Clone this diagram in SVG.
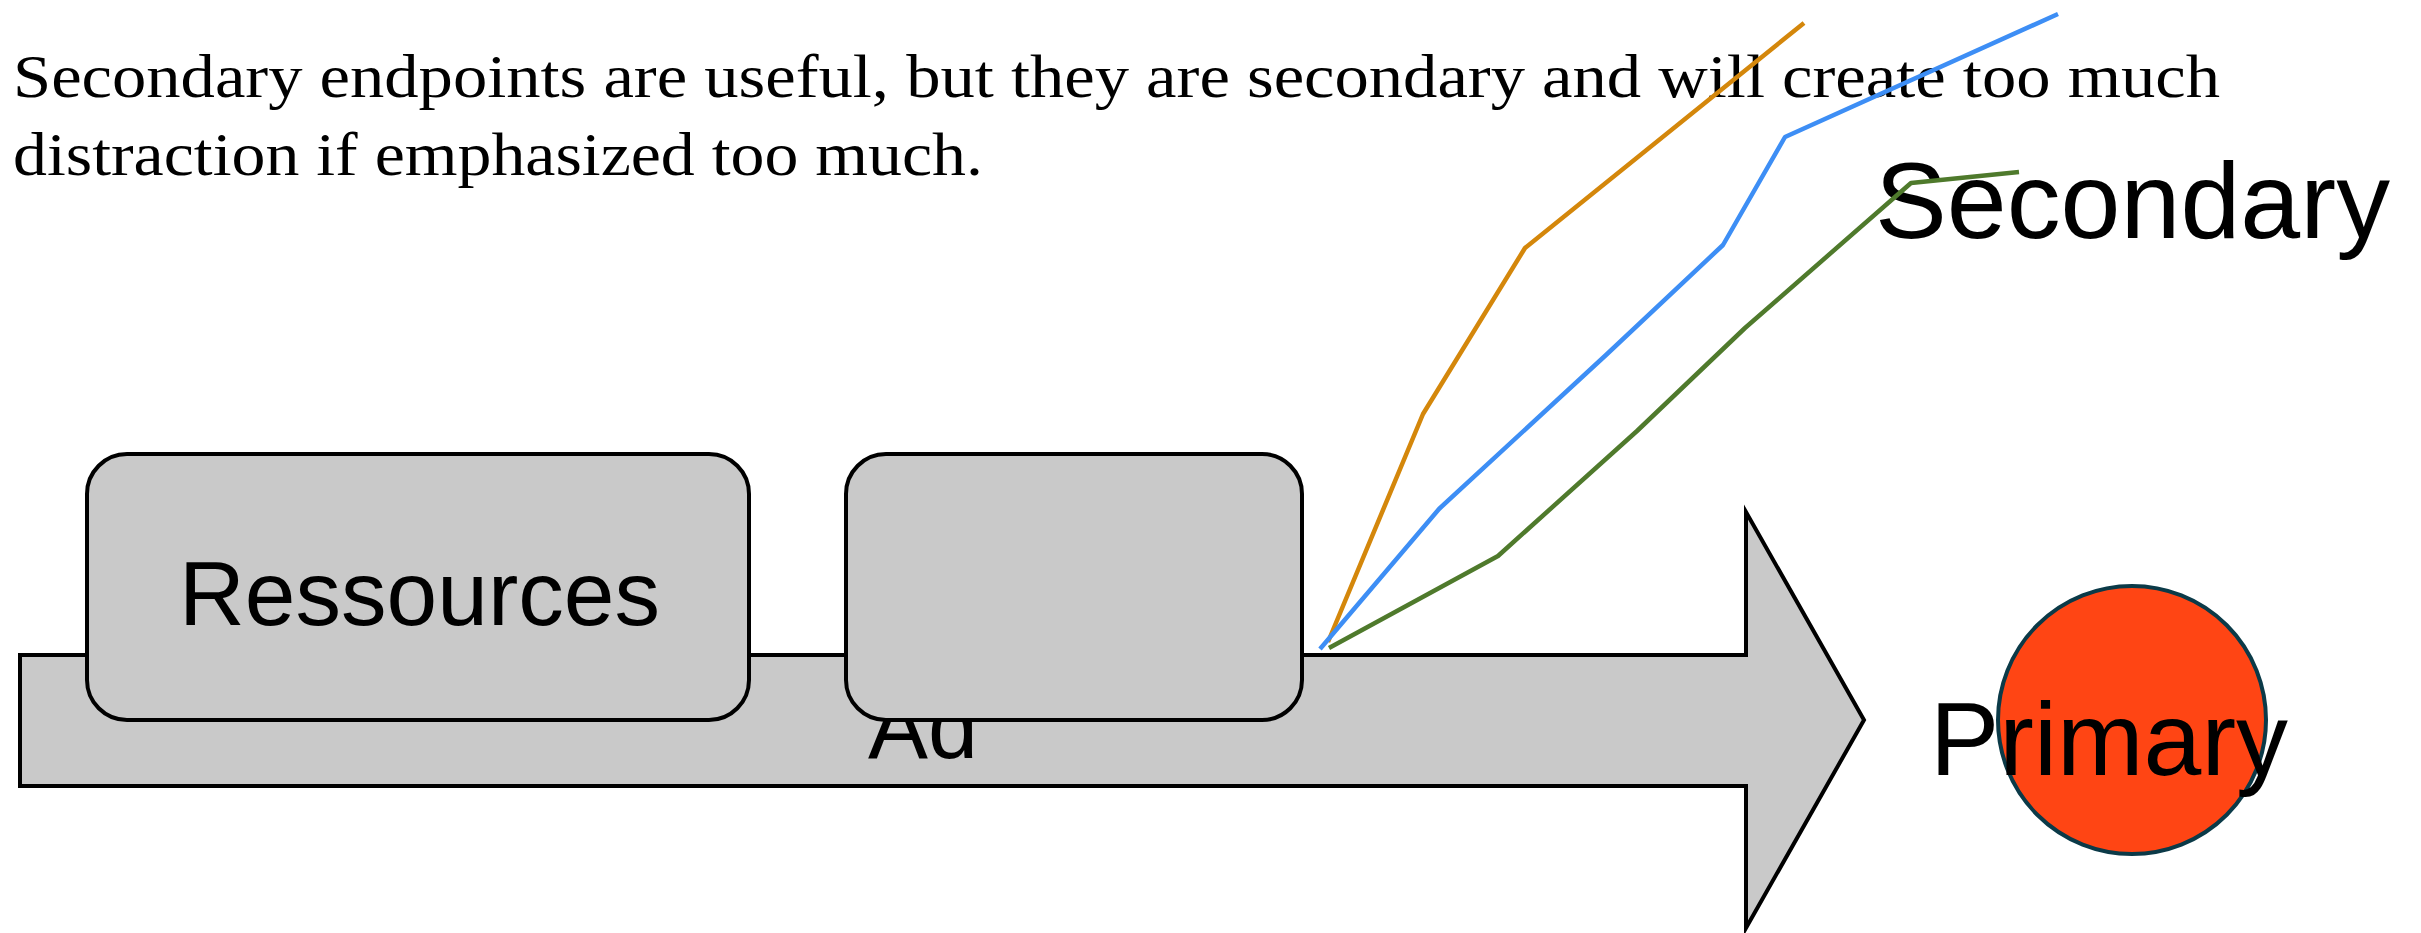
<svg xmlns="http://www.w3.org/2000/svg" width="2421" height="933" viewBox="0 0 2421 933">
<style>
.caption{font-family:"Liberation Serif","Times New Roman",serif;font-size:62px;fill:#000}
.lbl{font-family:"Liberation Sans",Arial,sans-serif;fill:#000}
.box{fill:#C9C9C9;stroke:#000;stroke-width:4}
.ln{fill:none;stroke-width:4.5;stroke-linejoin:round}
</style>
<rect width="2421" height="933" fill="#fff"/>
<g id="caption">
<text class="caption" x="13" y="97" textLength="2207" lengthAdjust="spacingAndGlyphs">Secondary endpoints are useful, but they are secondary  and will create too much</text>
<text class="caption" x="13" y="175" textLength="970" lengthAdjust="spacingAndGlyphs">distraction if emphasized too much.</text>
</g>
<g id="arrow-ad">
<polygon class="box" points="20,655 1746,655 1746,512 1864,720 1746,928 1746,786 20,786"/>
<text class="lbl" x="868" y="758" font-size="90" textLength="110" lengthAdjust="spacingAndGlyphs">Ad</text>
</g>
<g id="node-ressources">
<rect class="box" x="87" y="454" width="662" height="266" rx="40" ry="40"/>
<text class="lbl" x="179" y="625" font-size="91" textLength="481" lengthAdjust="spacingAndGlyphs">Ressources</text>
</g>
<g id="node-blank">
<rect class="box" x="846" y="454" width="456" height="266" rx="40" ry="40"/>
</g>
<g id="node-primary">
<circle cx="2132" cy="720" r="134" fill="#FF4514" stroke="#0B3A48" stroke-width="4"/>
<text class="lbl" x="1930" y="775" font-size="104" textLength="358" lengthAdjust="spacingAndGlyphs">Primary</text>
</g>
<g id="node-secondary">
<text class="lbl" x="1875" y="238" font-size="108" textLength="515" lengthAdjust="spacingAndGlyphs">Secondary</text>
</g>
<g id="connectors">
<polyline class="ln" stroke="#D4870B" points="1328,642 1423,414 1525,248 1804,23"/>
<polyline class="ln" stroke="#3D8EF5" points="1320,649 1439,509 1606,355 1723,245 1785,137 2058,14"/>
<polyline class="ln" stroke="#4F7A2C" points="1329,648 1498,556 1637,431 1745,328 1911,183 2019,172"/>
</g>
</svg>
